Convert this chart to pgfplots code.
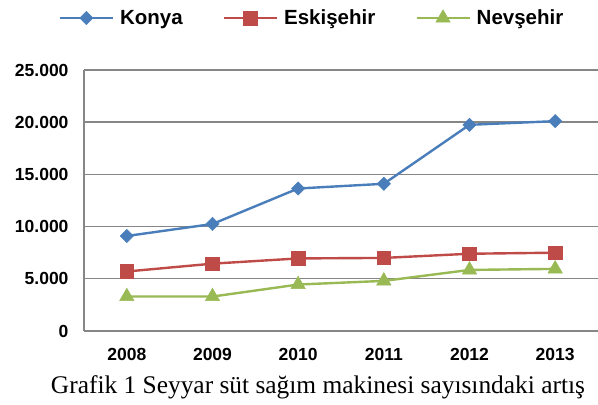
\documentclass[border=0pt]{standalone}
\usepackage{fontspec}
\setmainfont{Liberation Sans}
\newfontfamily\capfont{Liberation Serif}
\usepackage{pgfplots}
\pgfplotsset{compat=1.18}
\definecolor{kblue}{HTML}{4A7EBB}
\definecolor{ered}{HTML}{BE4B48}
\definecolor{ngreen}{HTML}{98B954}
\definecolor{gridgray}{HTML}{868686}
\begin{document}
\begin{tikzpicture}
\useasboundingbox (0,0) rectangle (598bp,405bp);
\begin{axis}[
  at={(84bp,74bp)}, anchor=south west,
  scale only axis, width=514bp, height=261bp,
  xmin=-0.5, xmax=5.5, ymin=0, ymax=25000,
  xtick={0,1,2,3,4,5},
  xticklabels={2008,2009,2010,2011,2012,2013},
  ytick={0,5000,10000,15000,20000,25000},
  scaled y ticks=false,
  /pgf/number format/.cd, fixed, 1000 sep={.}, assume math mode=true, /pgfplots/.cd,
  axis lines*=left,
  axis line style={gridgray, line width=1.4bp},
  ymajorgrids, major grid style={gridgray, line width=1.4bp},
  major tick length=0pt,
  tick label style={font=\fontsize{17.5bp}{20bp}\selectfont\bfseries},
  yticklabel style={anchor=east, xshift=-12bp},
  xticklabel style={anchor=north, yshift=-14bp},
  clip=false,
  legend columns=3,
  legend style={draw=none, fill=none, at={(0.4436,1.199)}, anchor=center,
    font=\fontsize{20.5bp}{24bp}\selectfont\bfseries,
    /tikz/every even column/.append style={column sep=38bp},
    inner sep=0pt},
  legend image code/.code={\draw[mark repeat=2,mark phase=2] plot coordinates {(0bp,0bp) (26.5bp,0bp) (53bp,0bp)}; \path (57bp,0bp);},
]
\addplot[kblue, line width=2.4bp, mark=square*, mark size=4.7bp, mark options={rotate=45, solid, fill=kblue, line width=0.5bp}]
  coordinates {(0,9100) (1,10250) (2,13650) (3,14100) (4,19750) (5,20100)};
\addlegendentry{Konya}
\addplot[ered, line width=2.4bp, mark=square*, mark size=6.8bp, mark options={solid, fill=ered, line width=0.5bp}]
  coordinates {(0,5700) (1,6450) (2,6950) (3,7000) (4,7400) (5,7500)};
\addlegendentry{Eskişehir}
\addplot[ngreen, line width=2.4bp, mark=triangle*, mark size=8.3bp, mark options={solid, fill=ngreen, line width=0.5bp}]
  coordinates {(0,3300) (1,3300) (2,4450) (3,4800) (4,5850) (5,5950)};
\addlegendentry{Nevşehir}
\end{axis}
\node[anchor=base, inner sep=0pt, font=\capfont\fontsize{25.4bp}{30bp}\selectfont] at (318bp,12bp) {Grafik 1 Seyyar süt sağım makinesi sayısındaki artış};
\end{tikzpicture}
\end{document}
